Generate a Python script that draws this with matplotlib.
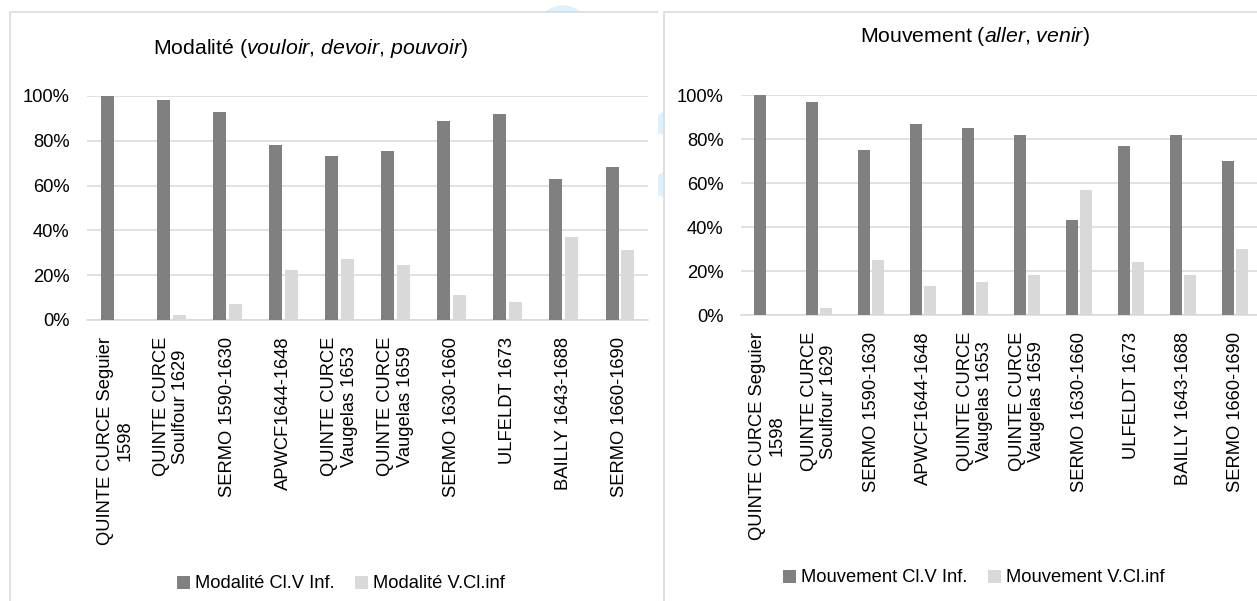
import numpy as np
import matplotlib.pyplot as plt
from matplotlib.lines import Line2D
from matplotlib.patches import Rectangle, Ellipse, Polygon

plt.rcParams['font.family'] = ['Liberation Sans', 'DejaVu Sans']
plt.rcParams['mathtext.fontset'] = 'custom'
plt.rcParams['mathtext.rm'] = 'Liberation Sans'
plt.rcParams['mathtext.it'] = 'Liberation Sans:italic'

# corpus / periods
corpus = ['QUINTE CURCE Seguier\n1598', 'QUINTE CURCE\nSoulfour 1629', 'SERMO 1590-1630',
          'APWCF1644-1648', 'QUINTE CURCE\nVaugelas 1653', 'QUINTE CURCE\nVaugelas 1659',
          'SERMO 1630-1660', 'ULFELDT 1673', 'BAILLY 1643-1688', 'SERMO 1660-1690']

# parts (0-1) of each construction
modal_clv = [1.00, 0.98, 0.93, 0.78, 0.73, 0.755, 0.89, 0.92, 0.63, 0.685]
modal_vcl = [0.00, 0.022, 0.071, 0.223, 0.272, 0.245, 0.111, 0.08, 0.37, 0.312]
mouv_clv = [1.00, 0.97, 0.752, 0.866, 0.852, 0.82, 0.431, 0.77, 0.816, 0.701]
mouv_vcl = [0.00, 0.03, 0.248, 0.134, 0.148, 0.18, 0.569, 0.239, 0.184, 0.299]

DARK = '#808080'
LIGHT = '#d9d9d9'
GRID = '#d9d9d9'
LOGO = '#dcf1fb'

W, H = 1257, 601
fig = plt.figure(figsize=(W / 100, H / 100), dpi=100)


def px(x0, y0, x1, y1):
    # rectangle in pixels (origin top-left) -> box in figure fraction
    return [x0 / W, 1 - y1 / H, (x1 - x0) / W, (y1 - y0) / H]


def fx(x):
    return x / W


def fy(y):
    return 1 - y / H


# page logo peeking out behind the two charts
fig.add_artist(Ellipse((fx(563), fy(32)), 52 / W, 52 / H, transform=fig.transFigure,
                       color=LOGO, zorder=-3))
for pts in [[(656, 118), (664, 112), (664, 134), (656, 133)],
            [(656, 178), (664, 172), (664, 196), (656, 194)]]:
    fig.add_artist(Polygon([(fx(a), fy(b)) for a, b in pts], closed=True,
                           transform=fig.transFigure, color=LOGO, zorder=-3))

# white chart areas and their frames
for box in [px(10, 12, 658, H + 5), px(664, 12, W + 5, H + 5)]:
    fig.add_artist(Rectangle(box[:2], box[2], box[3], transform=fig.transFigure,
                             facecolor='white', edgecolor='none', zorder=-2))
for xs, ys in [([10, 10, 658], [H + 5, 12, 12]), ([664, 664, W + 5], [H + 5, 12, 12])]:
    fig.add_artist(Line2D([fx(v) for v in xs], [fy(v) for v in ys], color=GRID, lw=1.1,
                          zorder=-1))


def bars(ax, clv, vcl, labels, legend_names, legend_pos):
    x = np.arange(len(labels))
    w = 0.232
    off = (w + 0.05) / 2
    b1 = ax.bar(x - off, clv, w, color=DARK, zorder=3)
    b2 = ax.bar(x + off, vcl, w, color=LIGHT, zorder=3)
    ax.set_xlim(-0.5, len(labels) - 0.5)
    ax.set_ylim(0, 1)
    ax.set_yticks(np.arange(0, 1.01, 0.2))
    ax.set_yticklabels([f'{int(round(v * 100))}%' for v in np.arange(0, 1.01, 0.2)])
    ax.set_xticks(x)
    ax.set_xticklabels(labels, rotation=90, ha='center', va='top', multialignment='center')
    ax.tick_params(axis='both', length=0, labelsize=13.2, colors='black')
    ax.tick_params(axis='y', pad=12.5)
    ax.tick_params(axis='x', pad=12)
    ax.grid(axis='y', color=GRID, lw=1.1, zorder=0)
    for s in ['top', 'right', 'left']:
        ax.spines[s].set_visible(False)
    ax.spines['bottom'].set_color(GRID)
    ax.spines['bottom'].set_linewidth(1.1)
    ax.set_facecolor('none')
    fig.legend([b1, b2], legend_names, loc='center', bbox_to_anchor=legend_pos, ncol=2,
               frameon=False, fontsize=13.2, handlelength=0.7, handleheight=0.7,
               handletextpad=0.3, columnspacing=1.1, borderaxespad=0)


ax1 = fig.add_axes(px(87, 96, 648, 320))
bars(ax1, modal_clv, modal_vcl, corpus, ['Modalité Cl.V Inf.', 'Modalité V.Cl.inf'],
     (fx(341), fy(584)))
fig.text(fx(310), fy(48), r'Modalité ($\mathit{vouloir{,}\ devoir{,}\ pouvoir}$)',
         ha='center', va='center', fontsize=15.3)

ax2 = fig.add_axes(px(741, 95, 1261, 315))
bars(ax2, mouv_clv, mouv_vcl, corpus, ['Mouvement Cl.V Inf.', 'Mouvement V.Cl.inf'],
     (fx(974), fy(578)))
fig.text(fx(975), fy(37), r'Mouvement ($\mathit{aller{,}\ venir}$)',
         ha='center', va='center', fontsize=15.3)

plt.savefig('out.png', dpi=100)
